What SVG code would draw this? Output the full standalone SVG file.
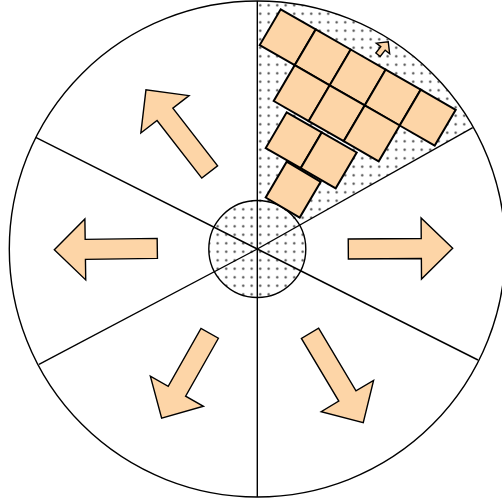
<svg xmlns="http://www.w3.org/2000/svg" width="502" height="500" viewBox="0 0 502 500">
  <defs>
    <pattern id="dots" width="8.5" height="8.5" patternUnits="userSpaceOnUse" x="1" y="1">
      <rect width="8.5" height="8.5" fill="#ffffff"/>
      <circle cx="4.2" cy="4.2" r="1.15" fill="#444444"/>
    </pattern>
    <style>
      .outline { fill: none; stroke: #000; stroke-width: 1.4; }
      .divider { stroke: #000; stroke-width: 1.4; fill: none; }
      .tile { fill: #FDD5A7; stroke: #000; stroke-width: 2; stroke-linejoin: miter; }
      .arrow { fill: #FDD5A7; stroke: #000; stroke-width: 1.4; stroke-linejoin: miter; }
    </style>
  </defs>
  <rect width="502" height="500" fill="#ffffff"/>

  <g id="wheel">
    <circle cx="257.3" cy="249" r="248" fill="#ffffff"/>
    <path id="dotted-sector" d="M257.3,249 L257.3,1 A248,248 0 0 1 472.7,127.7 Z" fill="url(#dots)"/>
    <circle id="hub-fill" cx="257.3" cy="249" r="48.5" fill="url(#dots)"/>
  </g>

  <g id="dividers">
    <line class="divider" x1="257.3" y1="249" x2="257.3" y2="1"/>
    <line class="divider" x1="257.3" y1="249" x2="257.3" y2="497"/>
    <line class="divider" x1="257.3" y1="249" x2="35.7" y2="137.3"/>
    <line class="divider" x1="257.3" y1="249" x2="472.7" y2="127.7"/>
    <line class="divider" x1="257.3" y1="249" x2="39" y2="364.3"/>
    <line class="divider" x1="257.3" y1="249" x2="478" y2="360"/>
  </g>

  <g id="outer-circle">
    <circle class="outline" cx="257.3" cy="249" r="248"/>
  </g>
  <g id="hub">
    <circle class="outline" cx="257.3" cy="249" r="48.5"/>
  </g>

  <g id="tiles">
    <polygon class="tile" points="280.7,9.3 315.7,29.4 294.7,65.2 259.7,45.1"/>
    <polygon class="tile" points="315.7,29.4 350.7,49.5 329.7,85.3 294.7,65.2"/>
    <polygon class="tile" points="350.7,49.5 385.7,69.6 364.7,105.4 329.7,85.3"/>
    <polygon class="tile" points="385.7,69.6 420.7,89.7 399.7,125.5 364.7,105.4"/>
    <polygon class="tile" points="420.7,89.7 455.7,109.8 434.7,145.6 399.7,125.5"/>
    <polygon class="tile" points="294.7,65.2 329.7,85.3 308.7,121.1 273.7,101"/>
    <polygon class="tile" points="329.7,85.3 364.7,105.4 343.7,141.2 308.7,121.1"/>
    <polygon class="tile" points="364.7,105.4 399.7,125.5 378.7,161.3 343.7,141.2"/>
    <polygon class="tile" points="286.7,112.3 321.7,132.4 300.7,168.2 265.7,148.1"/>
    <polygon class="tile" points="321.7,132.4 356.7,152.5 335.7,188.3 300.7,168.2"/>
    <polygon class="tile" points="286.7,161.7 320.7,181.8 299.7,217.6 265.7,197.5"/>
  </g>

  <g id="arrow-small">
    <polygon class="arrow" stroke-width="1.1" transform="translate(378,54.7) rotate(-51.6)" points="0,-2.8 8,-2.8 8,-8.5 16.5,0 8,8.5 8,2.8 0,2.8"/>
  </g>
  <g id="arrow-up-left">
    <polygon class="arrow" transform="translate(209.7,172) rotate(-127.8)" points="0,-10 73,-10 73,-30.5 104,0 73,30.5 73,10 0,10"/>
  </g>
  <g id="arrow-left">
    <polygon class="arrow" transform="translate(157.3,248.4) rotate(179.2)" points="0,-10 72,-10 72,-30.5 103,0 72,30.5 72,10 0,10"/>
  </g>
  <g id="arrow-right">
    <polygon class="arrow" transform="translate(348.3,249) rotate(-0.4)" points="0,-10 73,-10 73,-30.5 104.4,0 73,30.5 73,10 0,10"/>
  </g>
  <g id="arrow-down-left">
    <polygon class="arrow" transform="translate(209.7,333.3) rotate(119.5)" points="0,-10 66.6,-10 66.6,-30.5 97.6,0 66.6,30.5 66.6,10 0,10"/>
  </g>
  <g id="arrow-down-right">
    <polygon class="arrow" transform="translate(310,333.3) rotate(59.2)" points="0,-10 73,-10 73,-30.5 104,0 73,30.5 73,10 0,10"/>
  </g>
</svg>
